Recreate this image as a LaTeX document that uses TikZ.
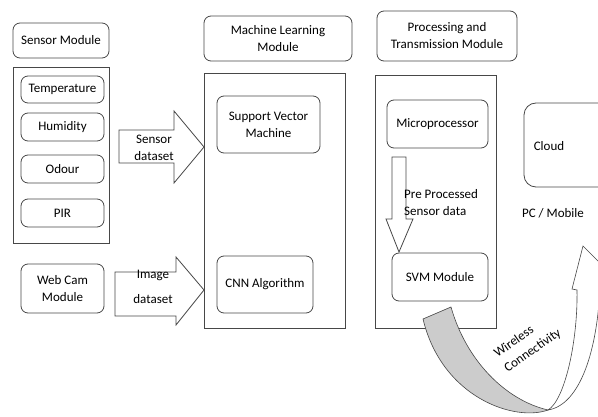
\documentclass[tikz,border=0pt]{standalone}
\usepackage{fontspec}
\setmainfont{Carlito}
\begin{document}
\begin{tikzpicture}[x=1pt,y=-1pt,
  lc/.style={draw=black!72,line width=0.8pt},
  rbox/.style={lc,rounded corners=7pt,align=center,inner sep=1pt,font=\fontsize{13}{17}\selectfont},
  obox/.style={lc},
  blk/.style={lc,fill=white,line join=miter},
  lbl/.style={align=center,inner sep=0pt,font=\fontsize{13}{17}\selectfont}]
\useasboundingbox (0,0) rectangle (598,417);
\clip (0,0) rectangle (598,417);
% outer containers
\draw[obox] (13,67) rectangle (109,243);
\draw[obox] (204,73) rectangle (345,328);
\draw[obox] (375,75) rectangle (496,328);
% headers
\node[rbox,minimum width=96pt,minimum height=35pt] (sm) at (61,40.5) {Sensor Module};
\node[rbox,minimum width=148pt,minimum height=45pt] (ml) at (278,38.5) {Machine Learning\\Module};
\node[rbox,minimum width=140pt,minimum height=50pt] (pt) at (447,36) {Processing and\\Transmission Module};
% sensors
\node[rbox,minimum width=83pt,minimum height=27pt] (temp) at (62.5,89.5) {Temperature};
\node[rbox,minimum width=83pt,minimum height=28pt] (hum) at (62.5,127) {Humidity};
\node[rbox,minimum width=83pt,minimum height=28pt] (odo) at (62.5,169) {Odour};
\node[rbox,minimum width=83pt,minimum height=28pt] (pir) at (62.5,213) {PIR};
\node[rbox,minimum width=83pt,minimum height=49pt] (cam) at (62.5,288.5) {Web Cam\\Module};
% ML
\node[rbox,minimum width=103pt,minimum height=57pt] (svm) at (268.5,124.5) {Support Vector\\Machine};
\node[rbox,minimum width=96pt,minimum height=57pt] (cnn) at (265,284.5) {CNN Algorithm};
% processing
\node[rbox,minimum width=101pt,minimum height=48pt] (mp) at (437.5,124) {Microprocessor};
\node[rbox,minimum width=96pt,minimum height=48pt] (svmm) at (440,277) {SVM Module};
% cloud
\node[rbox,rounded corners=12pt,minimum width=100pt,minimum height=84pt] (cl) at (574,145) {};
\node[lbl] (cltxt) at (549,146) {Cloud};
\node[lbl] (pc) at (553,213) {PC / Mobile};
% block arrows
\draw[blk] (119,130) -- (174,130) -- (174,111) -- (204,147) -- (174,183) -- (174,163) -- (119,163) -- cycle;
\node[lbl] (sd) at (154,148) {Sensor\\dataset};
\draw[blk] (115,272) -- (176,272) -- (176,257) -- (204,290) -- (176,325) -- (176,316) -- (115,316) -- cycle;
\node[lbl,font=\fontsize{13}{25}\selectfont] (id) at (153,287) {Image\\dataset};
\draw[blk] (392,157) -- (406,157) -- (406,219) -- (413,219) -- (399,252) -- (386,219) -- (392,219) -- cycle;
\node[lbl,align=left,anchor=west] (ppd) at (404,203) {Pre Processed\\Sensor data};
% curved wireless arrow
\coordinate (P) at (548,410);
\draw[lc,line width=0.6pt,fill=black!20] (423,319) -- (451,307) .. controls (466,360) and (505,400) .. (P)
  .. controls (515,422) and (442,398) .. (423,319) -- cycle;
\draw[lc,line width=0.6pt,fill=white] (P) .. controls (565,400) and (578,340) .. (577,290) -- (572,289) -- (583,246)
  -- (614,277) -- (600,284) .. controls (598,350) and (580,405) .. (P) -- cycle;
\node[lbl,align=left,rotate=35,font=\fontsize{13}{18}\selectfont] (wl) at (527.7,343.4) {Wireless\\Connectivity};
\end{tikzpicture}
\end{document}
